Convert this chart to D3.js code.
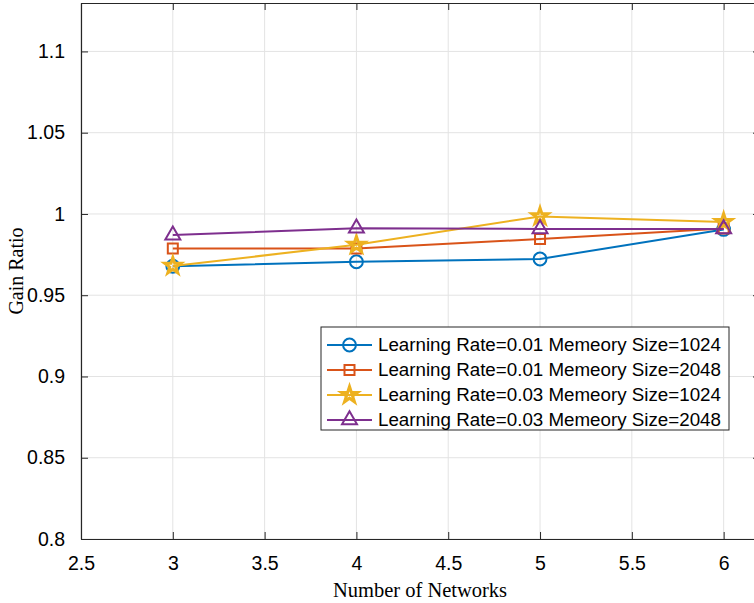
<!DOCTYPE html>
<html>
<head>
<meta charset="utf-8">
<script src="https://cdn.jsdelivr.net/npm/d3@7"></script>
<style>
  body { margin: 0; background: #fff; }
  svg { display: block; }
</style>
</head>
<body>
<div class="canvas"></div>
<script>
// chart data
const networks = [3, 4, 5, 6]
const seriesNames = [
    'Learning Rate=0.01 Memeory Size=1024',
    'Learning Rate=0.01 Memeory Size=2048',
    'Learning Rate=0.03 Memeory Size=1024',
    'Learning Rate=0.03 Memeory Size=2048'
]
const lr001m1024 = [0.9678, 0.9706, 0.9723, 0.9905]
const lr001m2048 = [0.9788, 0.9787, 0.9846, 0.9910]
const lr003m1024 = [0.9680, 0.9810, 0.9985, 0.9950]
const lr003m2048 = [0.9870, 0.9912, 0.9908, 0.9908]
const xTicks = [2.5, 3, 3.5, 4, 4.5, 5, 5.5, 6]
const yTicks = [0.8, 0.85, 0.9, 0.95, 1, 1.05, 1.1]

const seriesValues = [lr001m1024, lr001m2048, lr003m1024, lr003m2048]
const colors = ['#0072BD', '#D95319', '#EDB120', '#7E2F8E']
const shapes = [d3.symbolCircle, d3.symbolSquare, d3.symbolStar, d3.symbolTriangle]
const shapeSizes = [130, 100, 80, 97]
const markerStroke = [2, 2, 3, 2]

const dims = { width: 754, height: 603 }
const plot = { left: 81, right: 760, top: 3, bottom: 539 }
const axisColor = '#262626'

const svg = d3.select('.canvas').append('svg')
    .attr('width', dims.width)
    .attr('height', dims.height)

const x = d3.scaleLinear().domain([2.5, 6.198]).range([plot.left, plot.right])
const y = d3.scaleLinear().domain([0.8, 1.1298]).range([plot.bottom, plot.top])

// grid
const grid = svg.append('g')
grid.selectAll('.vgrid').data(xTicks).enter().append('line')
    .attr('x1', d => x(d)).attr('x2', d => x(d))
    .attr('y1', plot.top).attr('y2', plot.bottom)
    .attr('stroke', '#e3e3e3').attr('stroke-width', 1)
grid.selectAll('.hgrid').data(yTicks).enter().append('line')
    .attr('y1', d => y(d)).attr('y2', d => y(d))
    .attr('x1', plot.left).attr('x2', plot.right)
    .attr('stroke', '#e3e3e3').attr('stroke-width', 1)

// axes with inward ticks
const tickFmt = d => String(+d.toFixed(2))
const axisStyle = g => {
    g.select('.domain').attr('stroke', axisColor).attr('stroke-width', 1.2)
    g.selectAll('.tick line').attr('stroke', axisColor).attr('stroke-width', 1)
    g.selectAll('.tick text').attr('fill', '#000')
        .attr('font-family', '"Liberation Sans", Arial, sans-serif').attr('font-size', 19.5)
}

svg.append('g').attr('transform', `translate(0,${plot.bottom})`)
    .call(d3.axisBottom(x).tickValues(xTicks).tickFormat(tickFmt).tickSizeInner(-7).tickSizeOuter(0).tickPadding(17))
    .call(axisStyle)
svg.append('g').attr('transform', `translate(0,${plot.top})`)
    .call(d3.axisTop(x).tickValues(xTicks).tickFormat('').tickSizeInner(-7).tickSizeOuter(0))
    .call(axisStyle)
svg.append('g').attr('transform', `translate(${plot.left},0)`)
    .call(d3.axisLeft(y).tickValues(yTicks).tickFormat(tickFmt).tickSizeInner(-7).tickSizeOuter(0).tickPadding(16))
    .call(axisStyle)
svg.append('g').attr('transform', `translate(${plot.right},0)`)
    .call(d3.axisRight(y).tickValues(yTicks).tickFormat('').tickSizeInner(-7).tickSizeOuter(0))
    .call(axisStyle)

// axis titles
svg.append('text')
    .attr('x', 420).attr('y', 597)
    .attr('text-anchor', 'middle')
    .attr('font-family', '"Liberation Serif", "Times New Roman", serif').attr('font-size', 20.5)
    .text('Number of Networks')
svg.append('text')
    .attr('transform', `translate(23,${(plot.top + plot.bottom) / 2}) rotate(-90)`)
    .attr('text-anchor', 'middle')
    .attr('font-family', '"Liberation Serif", "Times New Roman", serif').attr('font-size', 20)
    .text('Gain Ratio')

// lines and markers
const line = d3.line().x((d, i) => x(networks[i])).y(d => y(d))
seriesValues.forEach((vals, s) => {
    const g = svg.append('g')
    g.append('path').datum(vals)
        .attr('fill', 'none').attr('stroke', colors[s]).attr('stroke-width', 2)
        .attr('d', line)
    g.selectAll('path.mk').data(vals).enter().append('path')
        .attr('class', 'mk')
        .attr('transform', (d, i) => `translate(${x(networks[i])},${y(d)})`)
        .attr('d', d3.symbol().type(shapes[s]).size(shapeSizes[s]))
        .attr('fill', 'none').attr('stroke', colors[s]).attr('stroke-width', markerStroke[s])
})

// legend
const legend = svg.append('g').attr('transform', 'translate(321,327)')
legend.append('rect')
    .attr('width', 408).attr('height', 103)
    .attr('fill', '#fff').attr('stroke', axisColor).attr('stroke-width', 1)
const items = legend.selectAll('.item').data(seriesNames).enter().append('g')
    .attr('transform', (d, i) => `translate(0,${18 + i * 25})`)
items.append('line')
    .attr('x1', 6).attr('x2', 51).attr('y1', 0).attr('y2', 0)
    .attr('stroke', (d, i) => colors[i]).attr('stroke-width', 2)
items.append('path')
    .attr('transform', 'translate(28.5,0)')
    .attr('d', (d, i) => d3.symbol().type(shapes[i]).size(shapeSizes[i])())
    .attr('fill', 'none').attr('stroke', (d, i) => colors[i]).attr('stroke-width', (d, i) => markerStroke[i])
items.append('text')
    .attr('x', 57).attr('y', 0).attr('dy', '0.34em')
    .attr('font-family', '"Liberation Sans", Arial, sans-serif').attr('font-size', 18.75)
    .text(d => d)
</script>
</body>
</html>
